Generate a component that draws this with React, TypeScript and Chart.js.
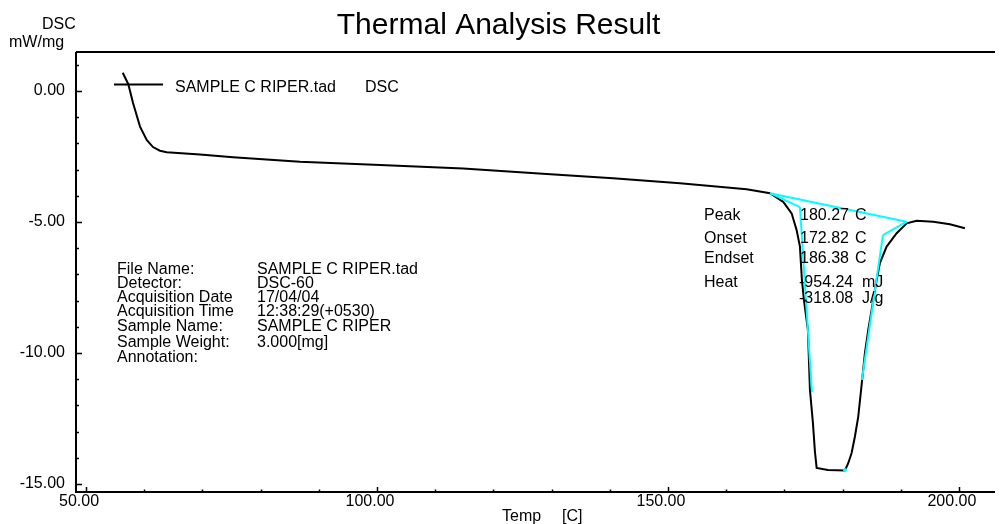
import React, { useEffect, useRef } from "react";
import { Chart, registerables } from "chart.js";

Chart.register(...registerables);

// ---- data ----
const dscTemp = [56.31, 57.27, 58.08, 59.28, 60.43, 61.51, 62.71, 63.87, 69.59, 75.26, 86.77, 100.52, 114.8, 129.16, 140.55, 152.06, 163.52, 167.53, 169.81, 171.25, 172.11, 172.68, 173.02, 173.37, 174.05, 174.40, 174.91, 175.26, 175.55, 177.49, 180.41, 180.98, 181.56, 182.13, 182.70, 183.28, 183.85, 184.42, 184.71, 185.86, 186.43, 187.58, 189.30, 191.02, 192.73, 195.59, 198.45, 201.03];
const dscValue = [0.70, 0.26, -0.46, -1.36, -1.87, -2.14, -2.28, -2.34, -2.42, -2.53, -2.70, -2.82, -2.96, -3.17, -3.33, -3.52, -3.75, -3.90, -4.23, -4.67, -5.31, -5.94, -7.21, -7.98, -9.12, -11.41, -12.67, -13.78, -14.39, -14.47, -14.49, -14.21, -13.82, -13.19, -12.43, -11.22, -10.00, -9.12, -8.74, -7.21, -6.56, -5.94, -5.43, -5.05, -4.95, -4.99, -5.09, -5.24];

// analysis construction lines (baseline and tangents)
const constructionTemps = [[167.53, 191.02], [167.53, 172.68], [172.68, 174.74], [191.02, 186.94], [186.94, 183.33]];
const constructionValues = [[-3.90, -4.99], [-3.90, -4.43], [-4.43, -11.49], [-4.99, -5.50], [-5.50, -11.03]];
const peakTemp = [180.41];
const peakValue = [-14.47];

const xMajorTicks = [50, 100, 150, 200];
const xMinorTicks = [60, 70, 80, 90, 110, 120, 130, 140, 160, 170, 180, 190];
const yMajorTicks = [0, -5, -10, -15];
const yMinorTicks = [1, -1, -2, -3, -4, -6, -7, -8, -9, -11, -12, -13, -14];

const seriesName = "SAMPLE C RIPER.tad";
const seriesType = "DSC";
const chartTitle = "Thermal Analysis Result";
const yTitle = ["DSC", "mW/mg"];
const xTitle = ["Temp", "[C]"];

const infoLabels = ["File Name:", "Detector:", "Acquisition Date", "Acquisition Time", "Sample Name:", "Sample Weight:", "Annotation:"];
const infoValues = ["SAMPLE C RIPER.tad", "DSC-60", "17/04/04", "12:38:29(+0530)", "SAMPLE C RIPER", "3.000[mg]", ""];

const resultLabels = ["Peak", "Onset", "Endset", "Heat", ""];
const resultValues = ["180.27", "172.82", "186.38", "-954.24", "-318.08"];
const resultUnits = ["C", "C", "C", "mJ", "J/g"];

const FONT = "'Liberation Sans', Arial, sans-serif";

const decorPlugin = {
  id: "decor",
  afterDraw(chart: any) {
    const { ctx, chartArea: a, scales } = chart;
    const xs = scales.x;
    const ys = scales.y;
    ctx.save();
    ctx.strokeStyle = "#000";
    ctx.lineWidth = 2;
    ctx.beginPath();
    ctx.moveTo(a.left, a.top);
    ctx.lineTo(a.right, a.top);
    ctx.moveTo(a.left, a.top);
    ctx.lineTo(a.left, a.bottom);
    ctx.lineTo(a.right, a.bottom);
    ctx.stroke();

    // inward ticks
    ctx.lineWidth = 1.5;
    ctx.beginPath();
    yMajorTicks.forEach((v) => {
      const p = Math.round(ys.getPixelForValue(v)) + 0.5;
      ctx.moveTo(a.left, p);
      ctx.lineTo(a.left + 6, p);
    });
    yMinorTicks.forEach((v) => {
      const p = Math.round(ys.getPixelForValue(v)) + 0.5;
      ctx.moveTo(a.left, p);
      ctx.lineTo(a.left + 3, p);
    });
    xMajorTicks.forEach((v) => {
      const p = Math.round(xs.getPixelForValue(v)) + 0.5;
      ctx.moveTo(p, a.bottom);
      ctx.lineTo(p, a.bottom - 5);
    });
    xMinorTicks.forEach((v) => {
      const p = Math.round(xs.getPixelForValue(v)) + 0.5;
      ctx.moveTo(p, a.bottom);
      ctx.lineTo(p, a.bottom - 2.5);
    });
    ctx.stroke();

    const text = (t: string, x: number, y: number, size: number, align: CanvasTextAlign = "left") => {
      ctx.font = `${size}px ${FONT}`;
      ctx.textAlign = align;
      ctx.textBaseline = "alphabetic";
      ctx.fillStyle = "#000";
      ctx.fillText(t, x, y);
    };

    // title
    text(chartTitle, 498.5, 34, 30, "center");
    // axis titles
    text(yTitle[0], 42, 29, 16);
    text(yTitle[1], 9, 46.5, 16);
    text(xTitle[0], 502, 521, 16);
    text(xTitle[1], 562, 521, 16);

    // legend
    ctx.strokeStyle = "#000";
    ctx.lineWidth = 2;
    ctx.beginPath();
    ctx.moveTo(114, 84.5);
    ctx.lineTo(163, 84.5);
    ctx.stroke();
    text(seriesName, 175, 92, 16);
    text(seriesType, 365, 92, 16);

    // info block
    const infoBase = [274, 288, 302, 315.5, 331, 346.5, 361.5];
    infoLabels.forEach((l, i) => {
      text(l, 117, infoBase[i], 16);
      if (infoValues[i]) text(infoValues[i], 257, infoBase[i], 16);
    });

    // results
    const resBase = [220, 243.3, 263.3, 286.7, 303.3];
    resultLabels.forEach((l, i) => {
      if (l) text(l, 704, resBase[i], 16);
      text(resultValues[i], resultValues[i].startsWith("-") ? 799 : 800, resBase[i], 16);
      text(resultUnits[i], i < 3 ? 855 : 862, resBase[i], 16);
    });
    ctx.restore();
  },
};

export default function App() {
  const ref = useRef<HTMLCanvasElement>(null);
  useEffect(() => {
    const pts = (xs: number[], ys: number[]) => xs.map((x, i) => ({ x, y: ys[i] }));
    const datasets: any[] = [
      {
        label: seriesName,
        data: pts(dscTemp, dscValue),
        borderColor: "#000",
        borderWidth: 2,
        pointRadius: 0,
        tension: 0,
        order: 2,
      },
      ...constructionTemps.map((t, i) => ({
        label: "construction" + i,
        data: pts(t, constructionValues[i]),
        borderColor: "#00ffff",
        borderWidth: 2,
        pointRadius: 0,
        tension: 0,
        order: 1,
      })),
      {
        label: "peak",
        data: pts(peakTemp, peakValue),
        showLine: false,
        pointRadius: 2,
        pointBorderWidth: 0,
        pointBackgroundColor: "#00ffff",
        order: 0,
      },
    ];
    const chart = new Chart(ref.current!, {
      type: "line",
      data: { datasets },
      options: {
        animation: false,
        responsive: false,
        layout: { padding: { top: 52, right: 6, left: 0, bottom: 0 } },
        plugins: { legend: { display: false }, title: { display: false }, tooltip: { enabled: false } },
        scales: {
          x: {
            type: "linear",
            min: 48.28,
            max: 206.2,
            afterBuildTicks: (s: any) => {
              s.ticks = xMajorTicks.map((v) => ({ value: v }));
            },
            afterFit: (s: any) => {
              s.height = 32;
            },
            ticks: {
              callback: (v: any) => Number(v).toFixed(2),
              font: { family: FONT, size: 16 },
              color: "#000",
              padding: 0,
              labelOffset: -7,
              maxRotation: 0,
              autoSkip: false,
            },
            grid: { display: false, drawTicks: false },
            border: { display: false },
          },
          y: {
            type: "linear",
            min: -15.31,
            max: 1.49,
            afterBuildTicks: (s: any) => {
              s.ticks = yMajorTicks.map((v) => ({ value: v }));
            },
            afterFit: (s: any) => {
              s.width = 76;
            },
            ticks: {
              callback: (v: any) => Number(v).toFixed(2),
              font: { family: FONT, size: 16 },
              color: "#000",
              padding: 11,
              autoSkip: false,
            },
            grid: { display: false, drawTicks: false },
            border: { display: false },
          },
        },
      },
      plugins: [decorPlugin],
    });
    return () => chart.destroy();
  }, []);
  return (
    <div style={{ position: "fixed", left: 0, top: 0, width: 1001, height: 524, background: "#fff" }}>
      <canvas ref={ref} width={1001} height={524} style={{ display: "block" }} />
    </div>
  );
}
